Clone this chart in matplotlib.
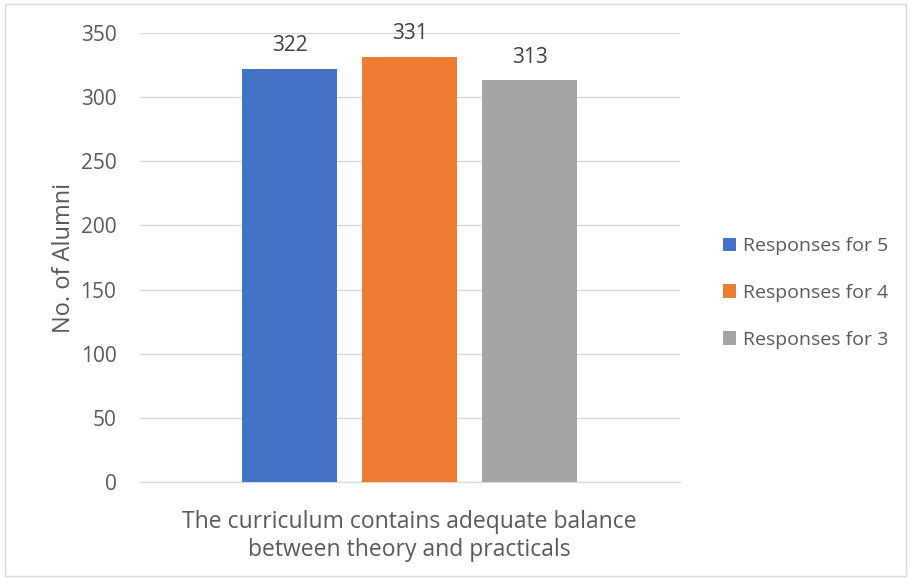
import matplotlib.pyplot as plt
from matplotlib.patches import Rectangle

# data
series = ['Responses for 5', 'Responses for 4', 'Responses for 3']
values = [322, 331, 313]
colors = ['#4472C4', '#ED7D31', '#A5A5A5']
category = 'The curriculum contains adequate balance\nbetween theory and practicals'

plt.rcParams['font.family'] = ['Open Sans', 'DejaVu Sans']
txt = '#595959'

fig = plt.figure(figsize=(9.11, 5.78), dpi=100)
ax = fig.add_axes([0.1537, 0.166, 0.5927, 0.777])

pos = list(range(len(values)))
bars = ax.bar(pos, values, width=0.79, color=colors, label=series, zorder=3)
for b, v in zip(bars, values):
    ax.text(b.get_x() + b.get_width() / 2, v + 10, str(v), ha='center', va='bottom',
            fontsize=15, color='#404040')

ax.set_xlim(-1.246, 3.254)
ax.set_ylim(0, 350)
ax.set_yticks(range(0, 351, 50))
ax.grid(axis='y', color='#D9D9D9', linewidth=1, zorder=0)
ax.set_xticks([])
for s in ['top', 'right', 'left']:
    ax.spines[s].set_visible(False)
ax.spines['bottom'].set_color('#D9D9D9')
ax.tick_params(axis='y', length=0, labelsize=15, labelcolor=txt, pad=17)
ax.set_ylabel('No. of Alumni', fontsize=17, color=txt, labelpad=3)
ax.text(1, -22, category, ha='center', va='top', fontsize=16.5, color=txt,
        linespacing=1.2)

leg = fig.legend(handles=bars, labels=series, loc='center left',
                 bbox_to_anchor=(0.774, 0.493), frameon=False, fontsize=14,
                 handlelength=0.7, handleheight=0.7, handletextpad=0.35,
                 labelspacing=1.47)
for t in leg.get_texts():
    t.set_color(txt)

fig.patches.append(Rectangle((0.005, 0.003), 0.99, 0.99, transform=fig.transFigure,
                             fill=False, edgecolor='#D9D9D9', linewidth=1))

fig.savefig('out.png', dpi=100)
